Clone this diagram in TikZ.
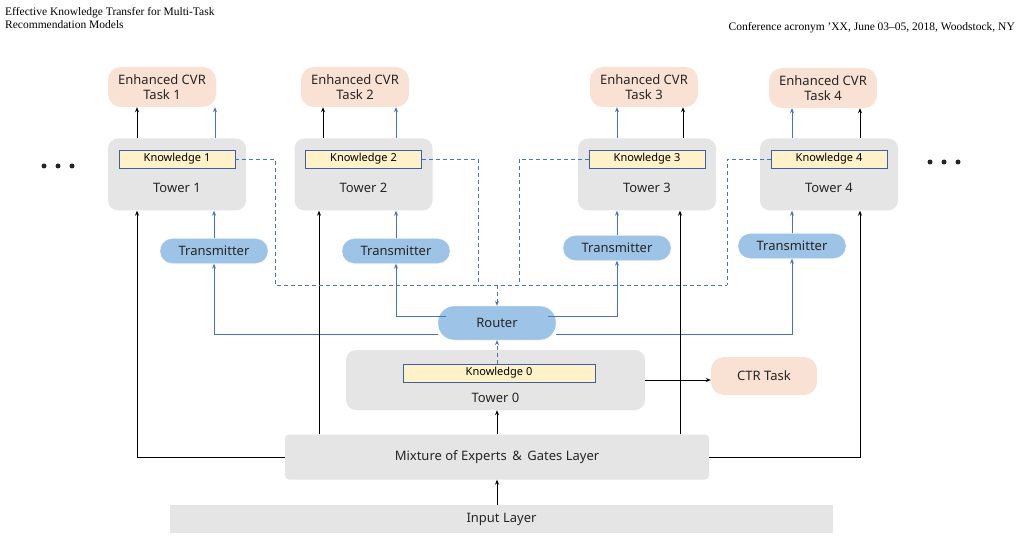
\documentclass[tikz,border=0pt]{standalone}
\usepackage{fontspec}
\setmainfont{Liberation Serif}
\newfontfamily\diag{Noto Sans}
\usetikzlibrary{arrows.meta}
\definecolor{peach}{HTML}{F9E1D3}
\definecolor{gbox}{HTML}{E5E5E5}
\definecolor{kfill}{HTML}{FFF2C8}
\definecolor{kedge}{HTML}{3B5FA8}
\definecolor{bfill}{HTML}{9DC3E6}
\definecolor{bline}{HTML}{4472C4}
\tikzset{
 x=1pt,y=-1pt,
 txt/.style={font=\diag\fontsize{13}{15}\selectfont,text=black!85},
 cvr/.style={txt,fill=peach,rounded corners=13pt,minimum width=108pt,minimum height=40pt,align=center,inner sep=0pt},
 tower/.style={fill=gbox,rounded corners=10pt},
 know/.style={draw=kedge,line width=0.9pt,fill=kfill,font=\diag\fontsize{11}{13}\selectfont,minimum height=18pt,inner sep=0pt},
 trans/.style={txt,fill=bfill,draw=white,rounded corners=12pt,minimum width=108pt,minimum height=25pt,inner sep=0pt},
 blk/.style={-{Stealth[length=5pt,width=4pt]},line width=0.8pt,black},
 blu/.style={-{Stealth[length=5pt,width=4pt]},line width=0.8pt,bline},
 dsh/.style={line width=0.8pt,bline,dash pattern=on 4pt off 3pt},
 dot/.style={circle,fill=black!85,inner sep=0pt,minimum size=5pt}
}
\begin{document}
\begin{tikzpicture}
\useasboundingbox (0,0) rectangle (1020,540);
% header
\node[anchor=north west,align=left,font=\fontsize{11.5}{13}\selectfont,inner sep=0pt] (hl) at (5,7) {Effective Knowledge Transfer for Multi-Task\\Recommendation Models};
\node[anchor=north east,font=\fontsize{11.5}{13}\selectfont,inner sep=0pt] (hr) at (1015,22) {Conference acronym 'XX, June 03--05, 2018, Woodstock, NY};
% input & moe
\node[fill=gbox,minimum width=663pt,minimum height=28pt,txt,inner sep=0pt] (inp) at (501.5,519) {Input Layer};
\node[fill=gbox,rounded corners=4pt,minimum width=424pt,minimum height=45pt,txt,inner sep=0pt] (moe) at (497,457) {Mixture of Experts \,\&\, Gates Layer};
% tower0
\node[tower,minimum width=299pt,minimum height=60pt,inner sep=0pt] (t0) at (495.5,380) {};
\node[know,minimum width=192pt] (k0) at (499,373) {Knowledge 0};
\node[txt] (t0l) at (495.5,398) {Tower 0};
\node[cvr,minimum width=106pt,minimum height=38pt] (ctr) at (764,376) {CTR Task};
% router
\node[trans,minimum width=118pt,minimum height=34pt,rounded corners=16pt] (rt) at (497,323) {Router};
% towers
\foreach \i/\cx/\tx/\cy in {1/177/214/251,2/363.5/396/251,3/647/617/248,4/829/792/246}{
  \node[tower,minimum width=138pt,minimum height=72pt,inner sep=0pt] (tw\i) at (\cx,174.5) {};
  \node[know,minimum width=116pt] (k\i) at (\cx,159) {Knowledge \i};
  \node[txt] (tl\i) at (\cx,188) {Tower \i};
  \node[trans] (tr\i) at (\tx,\cy) {Transmitter};
}
\node[cvr] (c1) at (162,87) {Enhanced CVR\\Task 1};
\node[cvr] (c2) at (355,87) {Enhanced CVR\\Task 2};
\node[cvr] (c3) at (644,87) {Enhanced CVR\\Task 3};
\node[cvr] (c4) at (823,88) {Enhanced CVR\\Task 4};
\node[dot] (d1) at (44,166) {}; \node[dot] (d2) at (58,166) {}; \node[dot] (d3) at (72,166) {};
\node[dot] (d4) at (930,162) {}; \node[dot] (d5) at (944,162) {}; \node[dot] (d6) at (958,162) {};
% tower -> cvr
\draw[blk] (tw1.north -| 137,0) -- (c1.south -| 137,0);
\draw[blu] (tw1.north -| 215,0) -- (c1.south -| 215,0);
\draw[blk] (tw2.north -| 323,0) -- (c2.south -| 323,0);
\draw[blu] (tw2.north -| 396,0) -- (c2.south -| 396,0);
\draw[blu] (tw3.north -| 617,0) -- (c3.south -| 617,0);
\draw[blk] (tw3.north -| 683,0) -- (c3.south -| 683,0);
\draw[blu] (tw4.north -| 792,0) -- (c4.south -| 792,0);
\draw[blk] (tw4.north -| 860,0) -- (c4.south -| 860,0);
% transmitter -> tower
\foreach \i in {1,2,3,4}{ \draw[blu] (tr\i.north) -- (tr\i.north |- tw\i.south); }
% router -> transmitters
\draw[blu] (rt.west |- 0,334) -- (214,334) -- (tr1.south);
\draw[blu] (rt.east |- 0,334) -- (792,334) -- (tr4.south);
\draw[blu] (rt.west |- 0,316) ++(8,0) -- (396,316) -- (tr2.south);
\draw[blu] (rt.east |- 0,316) ++(-8,0) -- (617,316) -- (tr3.south);
% moe -> towers
\draw[blk] (moe.west) -- (137,457) -- (137,0 |- tw1.south);
\draw[blk] (moe.north -| 319,0) -- (319,0 |- tw2.south);
\draw[blk] (moe.north -| 680,0) -- (680,0 |- tw3.south);
\draw[blk] (moe.east) -- (860,457) -- (860,0 |- tw4.south);
\draw[blk] (moe.north) -- (t0.south -| moe.north);
\draw[blk] (inp.north -| moe.north) -- (moe.south);
\draw[blk] (t0.east |- 0,380) -- (ctr.west |- 0,380);
% dashed knowledge
\draw[dsh] (k1.east) -- (275,159) -- (275,285) -- (727,285);
\draw[dsh] (k2.east) -- (478,159) -- (478,285);
\draw[dsh] (k3.west) -- (519,159) -- (519,285);
\draw[dsh] (k4.west) -- (727,159) -- (727,285);
\draw[dsh,-{Stealth[length=5pt,width=4pt]}] (497,285) -- (rt.north);
\draw[dsh,-{Stealth[length=5pt,width=4pt]}] (k0.north -| rt.south) -- (rt.south);
\end{tikzpicture}
\end{document}
